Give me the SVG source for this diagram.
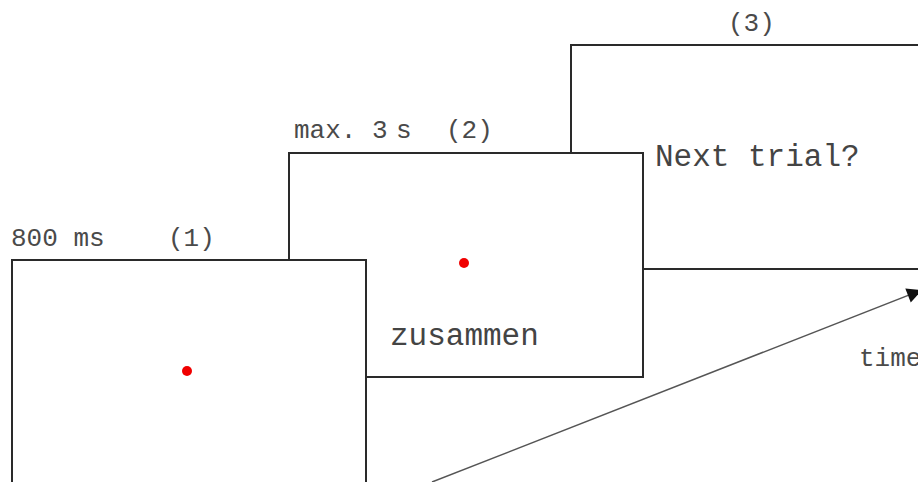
<svg xmlns="http://www.w3.org/2000/svg" width="918" height="482" viewBox="0 0 918 482">
<defs>
<style>
.box{fill:#fff;stroke:#2a2a2a;stroke-width:2}
.dot{fill:#f00000}
.lbl{font-family:"Liberation Mono","Courier New",monospace;font-size:26px;fill:#4a4a4a}
.big{font-family:"Liberation Mono","Courier New",monospace;font-size:31px;fill:#444}
.axis{stroke:#555;stroke-width:1.5;fill:none}
</style>
<marker id="ah" viewBox="0 0 10 10" refX="10" refY="5" markerWidth="22" markerHeight="15" markerUnits="userSpaceOnUse" orient="auto">
<path d="M0,0 L10,5 L0,10 z" fill="#111"/>
</marker>
</defs>
<g id="screen3">
<rect class="box" x="571" y="45" width="354" height="224"/>
<text class="lbl" x="728" y="31">(3)</text>
<text class="big" x="655" y="166">Next trial?</text>
</g>
<g id="screen2">
<rect class="box" x="289" y="153" width="354" height="224"/>
<circle class="dot" cx="464" cy="263" r="5"/>
<text class="lbl" y="138"><tspan x="294">max. 3</tspan><tspan x="396">s</tspan><tspan x="446">(2)</tspan></text>
<text class="big" x="390" y="345">zusammen</text>
</g>
<g id="screen1">
<rect class="box" x="12" y="260" width="354" height="224"/>
<circle class="dot" cx="187" cy="371" r="5"/>
<text class="lbl" y="246"><tspan x="11">800 ms</tspan><tspan x="168">(1)</tspan></text>
</g>
<g id="connectors">
<line class="axis" x1="432" y1="482" x2="922" y2="290" marker-end="url(#ah)"/>
<text class="lbl" x="859" y="366">time</text>
</g>
</svg>
